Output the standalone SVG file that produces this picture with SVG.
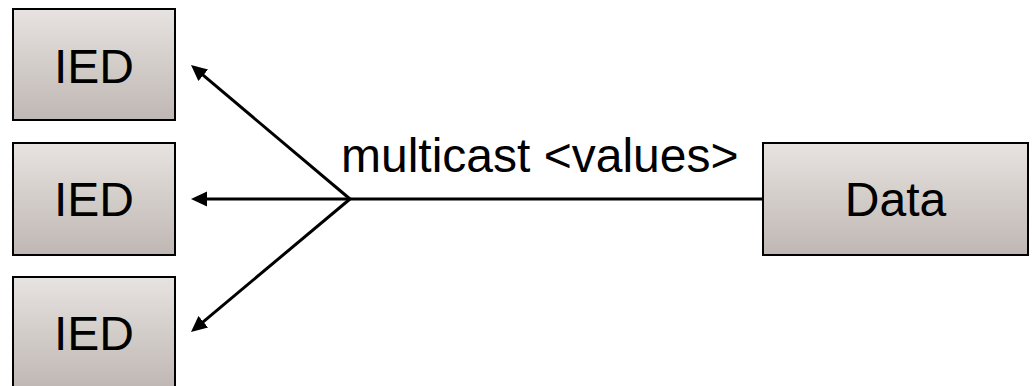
<svg xmlns="http://www.w3.org/2000/svg" width="1032" height="386" viewBox="0 0 1032 386">
  <defs>
    <linearGradient id="boxfill" x1="0" y1="0" x2="0" y2="1">
      <stop offset="0" stop-color="#e7e3e0"/>
      <stop offset="1" stop-color="#bfb7b3"/>
    </linearGradient>
    <marker id="arrow" markerUnits="userSpaceOnUse" markerWidth="20" markerHeight="20" viewBox="0 -10 20 20" refX="6" refY="0" orient="auto">
      <path d="M0,-7.5 L16,0 L0,7.5 z" fill="#000"/>
    </marker>
  </defs>
  <style>
    .box { fill: url(#boxfill); stroke: #000; stroke-width: 2; }
    .lbl { font-family: "Liberation Sans", Arial, sans-serif; font-size: 48px; fill: #000; }
    .conn { stroke: #000; stroke-width: 3; fill: none; }
  </style>
  <rect width="1032" height="386" fill="#fff"/>
  <g id="ied1">
    <rect class="box" x="13" y="9" width="162" height="111"/>
    <text class="lbl" x="94" y="83" text-anchor="middle">IED</text>
  </g>
  <g id="ied2">
    <rect class="box" x="13" y="143" width="162" height="112"/>
    <text class="lbl" x="94" y="216" text-anchor="middle">IED</text>
  </g>
  <g id="ied3">
    <rect class="box" x="13" y="277" width="162" height="112"/>
    <text class="lbl" x="94" y="350" text-anchor="middle">IED</text>
  </g>
  <g id="data">
    <rect class="box" x="763" y="143" width="265" height="112"/>
    <text class="lbl" x="895.5" y="216" text-anchor="middle">Data</text>
  </g>
  <g id="connectors">
    <line class="conn" x1="763" y1="199" x2="350" y2="199"/>
    <line class="conn" x1="350" y1="199" x2="198.65" y2="71.45" marker-end="url(#arrow)"/>
    <line class="conn" x1="350" y1="199" x2="201" y2="199" marker-end="url(#arrow)"/>
    <line class="conn" x1="350" y1="199" x2="198.67" y2="325.58" marker-end="url(#arrow)"/>
    <text class="lbl" x="341" y="172">multicast &lt;values&gt;</text>
  </g>
</svg>
